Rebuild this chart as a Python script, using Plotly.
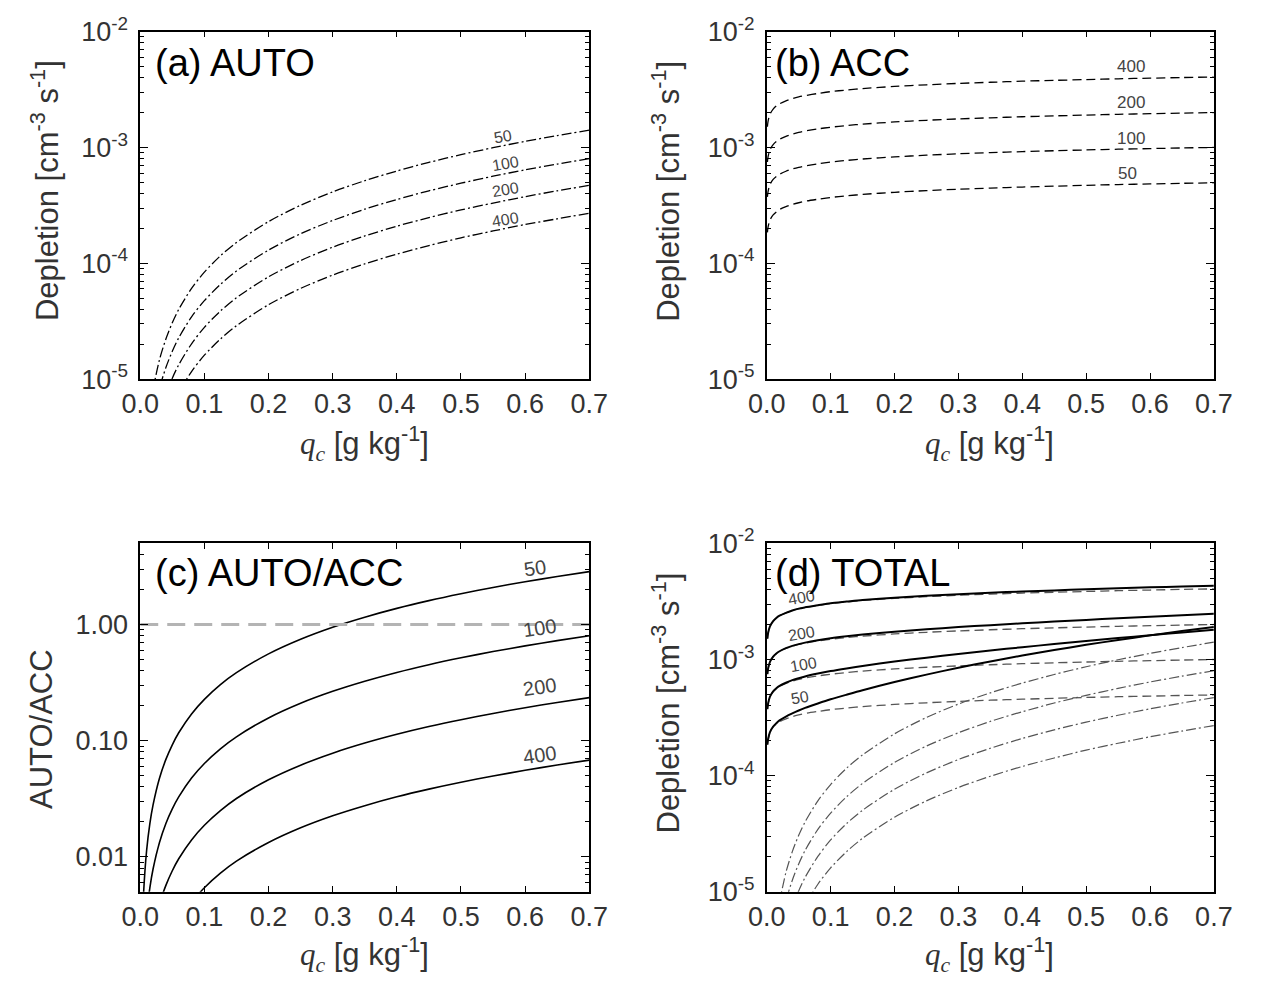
import math
import plotly.graph_objects as go

# ---------------- data ----------------
N_LABELS = ["50", "100", "200", "400"]

QC = [0.001, 0.002, 0.005, 0.01, 0.015, 0.02, 0.03, 0.04, 0.05, 0.06, 0.08, 0.1,
      0.125, 0.15, 0.2, 0.25, 0.3, 0.35, 0.4, 0.45, 0.5, 0.55, 0.6, 0.65, 0.7]

AUTO_50 = [1.06e-7, 2.9e-7, 1.09e-6, 2.98e-6, 5.36e-6, 8.14e-6, 1.47e-5, 2.22e-5, 3.07e-5, 4.00e-5,
           6.07e-5, 8.39e-5, 1.16e-4, 1.51e-4, 2.29e-4, 3.17e-4, 4.13e-4, 5.16e-4, 6.26e-4, 7.43e-4,
           8.66e-4, 9.94e-4, 1.128e-3, 1.266e-3, 1.41e-3]
AUTO_100 = [6.0e-8, 1.64e-7, 6.2e-7, 1.69e-6, 3.04e-6, 4.62e-6, 8.31e-6, 1.26e-5, 1.74e-5, 2.27e-5,
            3.45e-5, 4.76e-5, 6.58e-5, 8.58e-5, 1.30e-4, 1.80e-4, 2.34e-4, 2.93e-4, 3.55e-4, 4.22e-4,
            4.91e-4, 5.64e-4, 6.40e-4, 7.18e-4, 8.0e-4]
AUTO_200 = [3.5e-8, 9.6e-8, 3.6e-7, 9.9e-7, 1.79e-6, 2.71e-6, 4.88e-6, 7.41e-6, 1.02e-5, 1.33e-5,
            2.02e-5, 2.80e-5, 3.87e-5, 5.04e-5, 7.64e-5, 1.056e-4, 1.377e-4, 1.72e-4, 2.09e-4, 2.48e-4,
            2.89e-4, 3.31e-4, 3.76e-4, 4.22e-4, 4.70e-4]
AUTO_400 = [2.0e-8, 5.5e-8, 2.1e-7, 5.7e-7, 1.03e-6, 1.56e-6, 2.81e-6, 4.26e-6, 5.88e-6, 7.66e-6,
            1.163e-5, 1.61e-5, 2.22e-5, 2.89e-5, 4.39e-5, 6.07e-5, 7.91e-5, 9.88e-5, 1.20e-4, 1.42e-4,
            1.66e-4, 1.90e-4, 2.16e-4, 2.42e-4, 2.70e-4]

ACC_50 = [1.85e-4, 2.05e-4, 2.36e-4, 2.62e-4, 2.78e-4, 2.91e-4, 3.08e-4, 3.22e-4, 3.33e-4, 3.43e-4,
          3.57e-4, 3.70e-4, 3.82e-4, 3.93e-4, 4.10e-4, 4.24e-4, 4.36e-4, 4.46e-4, 4.55e-4, 4.63e-4,
          4.71e-4, 4.78e-4, 4.84e-4, 4.90e-4, 4.95e-4]
ACC_100 = [3.74e-4, 4.15e-4, 4.77e-4, 5.29e-4, 5.62e-4, 5.87e-4, 6.23e-4, 6.51e-4, 6.73e-4, 6.92e-4,
           7.22e-4, 7.47e-4, 7.72e-4, 7.94e-4, 8.29e-4, 8.57e-4, 8.81e-4, 9.01e-4, 9.20e-4, 9.36e-4,
           9.51e-4, 9.65e-4, 9.77e-4, 9.89e-4, 1.0e-3]
ACC_200 = [7.48e-4, 8.30e-4, 9.54e-4, 1.058e-3, 1.124e-3, 1.174e-3, 1.246e-3, 1.302e-3, 1.346e-3, 1.384e-3,
           1.444e-3, 1.494e-3, 1.544e-3, 1.588e-3, 1.658e-3, 1.714e-3, 1.762e-3, 1.802e-3, 1.840e-3, 1.872e-3,
           1.902e-3, 1.930e-3, 1.954e-3, 1.978e-3, 2.0e-3]
ACC_400 = [1.51e-3, 1.68e-3, 1.93e-3, 2.14e-3, 2.28e-3, 2.38e-3, 2.52e-3, 2.64e-3, 2.73e-3, 2.80e-3,
           2.92e-3, 3.03e-3, 3.13e-3, 3.22e-3, 3.36e-3, 3.47e-3, 3.57e-3, 3.65e-3, 3.73e-3, 3.79e-3,
           3.85e-3, 3.91e-3, 3.96e-3, 4.01e-3, 4.05e-3]

TOTAL_50 = [1.85e-4, 2.05e-4, 2.37e-4, 2.65e-4, 2.83e-4, 2.99e-4, 3.23e-4, 3.44e-4, 3.64e-4, 3.83e-4,
            4.18e-4, 4.54e-4, 4.98e-4, 5.44e-4, 6.39e-4, 7.41e-4, 8.49e-4, 9.62e-4, 1.081e-3, 1.206e-3,
            1.337e-3, 1.472e-3, 1.612e-3, 1.756e-3, 1.905e-3]
TOTAL_100 = [3.74e-4, 4.15e-4, 4.78e-4, 5.31e-4, 5.65e-4, 5.92e-4, 6.31e-4, 6.64e-4, 6.90e-4, 7.15e-4,
             7.57e-4, 7.95e-4, 8.38e-4, 8.80e-4, 9.59e-4, 1.037e-3, 1.115e-3, 1.194e-3, 1.275e-3, 1.358e-3,
             1.442e-3, 1.529e-3, 1.617e-3, 1.707e-3, 1.80e-3]
TOTAL_200 = [7.48e-4, 8.30e-4, 9.54e-4, 1.059e-3, 1.126e-3, 1.177e-3, 1.251e-3, 1.309e-3, 1.356e-3, 1.397e-3,
             1.464e-3, 1.522e-3, 1.583e-3, 1.638e-3, 1.734e-3, 1.820e-3, 1.900e-3, 1.974e-3, 2.049e-3, 2.120e-3,
             2.191e-3, 2.261e-3, 2.330e-3, 2.400e-3, 2.470e-3]
TOTAL_400 = [1.51e-3, 1.68e-3, 1.93e-3, 2.14e-3, 2.28e-3, 2.38e-3, 2.52e-3, 2.64e-3, 2.74e-3, 2.81e-3,
             2.93e-3, 3.05e-3, 3.15e-3, 3.25e-3, 3.40e-3, 3.53e-3, 3.65e-3, 3.75e-3, 3.85e-3, 3.93e-3,
             4.02e-3, 4.10e-3, 4.18e-3, 4.25e-3, 4.32e-3]

RATIO_50 = [5.7e-4, 1.41e-3, 4.62e-3, 0.0114, 0.0193, 0.0280, 0.0475, 0.0690, 0.0922, 0.117,
            0.170, 0.227, 0.304, 0.385, 0.559, 0.747, 0.948, 1.157, 1.377, 1.605,
            1.840, 2.083, 2.332, 2.588, 2.85]
RATIO_100 = [1.6e-4, 3.94e-4, 1.30e-3, 3.19e-3, 5.42e-3, 7.87e-3, 0.0133, 0.0194, 0.0259, 0.0328,
             0.0477, 0.0637, 0.0852, 0.108, 0.157, 0.210, 0.266, 0.325, 0.387, 0.451,
             0.517, 0.585, 0.655, 0.727, 0.80]
RATIO_200 = [4.7e-5, 1.16e-4, 3.81e-4, 9.4e-4, 1.59e-3, 2.31e-3, 3.92e-3, 5.69e-3, 7.60e-3, 9.64e-3,
             0.0140, 0.0187, 0.0250, 0.0318, 0.0461, 0.0616, 0.0781, 0.0954, 0.1135, 0.1323,
             0.1517, 0.1717, 0.1923, 0.2134, 0.235]
RATIO_400 = [1.36e-5, 3.35e-5, 1.10e-4, 2.71e-4, 4.60e-4, 6.69e-4, 1.13e-3, 1.65e-3, 2.20e-3, 2.79e-3,
             4.05e-3, 5.42e-3, 7.24e-3, 9.19e-3, 0.0133, 0.0178, 0.0226, 0.0276, 0.0329, 0.0383,
             0.0439, 0.0497, 0.0556, 0.0618, 0.068]

RATIO_REF = [1.0, 1.0]
RATIO_REF_X = [0.0, 0.7]

# curve label positions (qc, value)
LAB_A = [(0.565, 1.24e-3), (0.57, 7.3e-4), (0.57, 4.35e-4), (0.57, 2.37e-4)]
LAB_B = [(0.565, 5.98e-4), (0.57, 1.2e-3), (0.57, 2.43e-3), (0.57, 4.97e-3)]
LAB_C = [(0.616, 3.04), (0.622, 0.94), (0.622, 0.289), (0.622, 0.076)]
LAB_D = [(0.052, 4.7e-4), (0.058, 9.1e-4), (0.055, 1.69e-3), (0.055, 3.41e-3)]

X_TICKS = [0.0, 0.1, 0.2, 0.3, 0.4, 0.5, 0.6, 0.7]
X_TICKTEXT = ["0.0", "0.1", "0.2", "0.3", "0.4", "0.5", "0.6", "0.7"]
DEP_TICKS = [1e-5, 1e-4, 1e-3, 1e-2]
DEP_TICKTEXT = ["10<sup>-5</sup>", "10<sup>-4</sup>", "10<sup>-3</sup>", "10<sup>-2</sup>"]
RAT_TICKS = [0.01, 0.1, 1.0]
RAT_TICKTEXT = ["0.01", "0.10", "1.00"]

AUTO = [AUTO_50, AUTO_100, AUTO_200, AUTO_400]
ACC = [ACC_50, ACC_100, ACC_200, ACC_400]
TOTAL = [TOTAL_50, TOTAL_100, TOTAL_200, TOTAL_400]
RATIO = [RATIO_50, RATIO_100, RATIO_200, RATIO_400]

# ---------------- layout geometry ----------------
W, H = 1261, 987
def px_x(a, b):
    return [a / W, b / W]
def px_y(top, bottom):
    return [1 - bottom / H, 1 - top / H]

XD_L = px_x(125, 588)
XD_R = px_x(771, 1232)
YD_T = px_y(13, 373)
YD_B = px_y(543, 904)

TICKFONT = dict(family="Liberation Sans", size=27, color="#333333")
DEP_MINOR = [m * 10 ** e for e in (-5, -4, -3) for m in range(2, 10)]
RAT_MINOR = [m * 10 ** e for e in (-3, -2, -1, 0) for m in range(2, 10) if 0.005 <= m * 10 ** e <= 5]

def xaxis(domain, anchor):
    return dict(domain=domain, anchor=anchor, range=[0, 0.7], showline=True, linecolor="black",
                linewidth=1.6, mirror="allticks", ticks="inside", ticklen=6, tickwidth=1.3,
                tickcolor="black", tickmode="array", tickvals=X_TICKS, ticktext=X_TICKTEXT,
                tickfont=TICKFONT, showgrid=False, zeroline=False, ticklabelstandoff=0)

def yaxis(domain, anchor, rng, tv, tt, minor):
    return dict(domain=domain, anchor=anchor, type="log", range=rng, showline=True, linecolor="black",
                linewidth=1.6, mirror="allticks", ticks="inside", ticklen=8, tickwidth=1.3,
                tickcolor="black", tickmode="array", tickvals=tv, ticktext=tt, tickfont=TICKFONT,
                showgrid=False, zeroline=False, ticklabelstandoff=5,
                minor=dict(tickmode="array", tickvals=minor, ticks="inside", ticklen=4,
                           tickwidth=1, tickcolor="black", showgrid=False))

fig = go.Figure()

DASHDOT = "10px,3px,2px,3px"
DASHED = "9px,5px"

def line(x, y, xa, ya, color, width, dash):
    fig.add_trace(go.Scatter(x=x, y=y, xaxis=xa, yaxis=ya, mode="lines", showlegend=False,
                             line=dict(color=color, width=width, dash=dash, shape="spline",
                                       smoothing=0.8), hoverinfo="skip"))

for i in range(4):
    line(QC, AUTO[i], "x", "y", "black", 1.3, DASHDOT)
    line(QC, ACC[i], "x2", "y2", "black", 1.3, DASHED)
    line(QC, RATIO[i], "x3", "y3", "black", 1.6, "solid")

fig.add_trace(go.Scatter(x=RATIO_REF_X, y=RATIO_REF, xaxis="x3", yaxis="y3", mode="lines",
                         showlegend=False, line=dict(color="#b4b4b4", width=3, dash="18px,9px")))

for i in range(4):
    line(QC, AUTO[i], "x4", "y4", "#555555", 1.2, DASHDOT)
    line(QC, ACC[i], "x4", "y4", "#555555", 1.3, DASHED)
for i in range(4):
    line(QC, TOTAL[i], "x4", "y4", "black", 2.0, "solid")

ann = []
def lab(text, x, y, xr, yr, size, angle, color="#444444"):
    ann.append(dict(text=text, x=x, y=math.log10(y), xref=xr, yref=yr, showarrow=False,
                    font=dict(family="Liberation Sans", size=size, color=color), textangle=angle,
                    xanchor="center", yanchor="middle"))

for i, n in enumerate(N_LABELS):
    lab(n, LAB_A[i][0], LAB_A[i][1], "x", "y", 16, -10)
    lab(n, LAB_B[i][0], LAB_B[i][1], "x2", "y2", 17, 0)
    lab(n, LAB_C[i][0], LAB_C[i][1], "x3", "y3", 20, -8)
    lab(n, LAB_D[i][0], LAB_D[i][1], "x4", "y4", 16, -10)

def ptext(text, xp, yp, size, angle=0, color="black", xanchor="left", yanchor="middle"):
    ann.append(dict(text=text, x=xp / W, y=1 - yp / H, xref="paper", yref="paper", showarrow=False,
                    font=dict(family="Liberation Sans", size=size, color=color), textangle=angle,
                    xanchor=xanchor, yanchor=yanchor))

ptext("(a) AUTO", 138, 46, 38)
ptext("(b) ACC", 777, 46, 38)
ptext("(c) AUTO/ACC", 138, 574, 38)
ptext("(d) TOTAL", 777, 574, 38)

DEP_TITLE = "Depletion [cm<sup>-3</sup> s<sup>-1</sup>]"
ptext(DEP_TITLE, 27, 178, 31, -90, "#333333", "center")
ptext(DEP_TITLE, 667, 178, 31, -90, "#333333", "center")
ptext(DEP_TITLE, 667, 708, 31, -90, "#333333", "center")
ptext("AUTO/ACC", 23, 735, 31, -90, "#333333", "center")

XT = '<span style="font-family:Liberation Serif;font-style:italic">q<sub>c</sub></span> [g kg<sup>-1</sup>]'
ptext(XT, 356, 440, 31, 0, "#333333", "center")
ptext(XT, 1001, 440, 31, 0, "#333333", "center")
ptext(XT, 356, 969, 31, 0, "#333333", "center")
ptext(XT, 1001, 969, 31, 0, "#333333", "center")

fig.update_layout(
    width=W, height=H, autosize=False, margin=dict(l=0, r=0, t=0, b=0),
    paper_bgcolor="white", plot_bgcolor="white", showlegend=False,
    xaxis=xaxis(XD_L, "y"), yaxis=yaxis(YD_T, "x", [-5, -2], DEP_TICKS, DEP_TICKTEXT, DEP_MINOR),
    xaxis2=xaxis(XD_R, "y2"), yaxis2=yaxis(YD_T, "x2", [-5, -2], DEP_TICKS, DEP_TICKTEXT, DEP_MINOR),
    xaxis3=xaxis(XD_L, "y3"), yaxis3=yaxis(YD_B, "x3", [math.log10(0.005), math.log10(5)],
                                             RAT_TICKS, RAT_TICKTEXT, RAT_MINOR),
    xaxis4=xaxis(XD_R, "y4"), yaxis4=yaxis(YD_B, "x4", [-5, -2], DEP_TICKS, DEP_TICKTEXT, DEP_MINOR),
    annotations=ann,
)

fig.write_html("out.html")
